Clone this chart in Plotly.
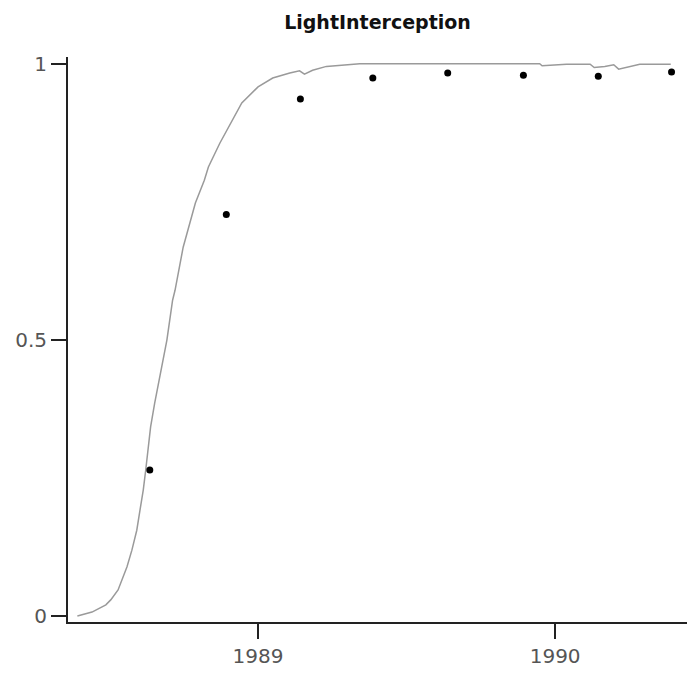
import plotly.graph_objects as go

# Simulated light interception (line)
sim_dates = [
    "1988-05-24", "1988-06-11", "1988-06-28", "1988-07-04", "1988-07-13",
    "1988-07-18", "1988-07-24", "1988-07-30", "1988-08-05", "1988-08-09",
    "1988-08-13", "1988-08-16", "1988-08-19", "1988-08-22", "1988-08-27",
    "1988-08-30", "1988-09-05", "1988-09-11", "1988-09-18", "1988-09-21",
    "1988-10-01", "1988-10-12", "1988-10-16", "1988-10-27", "1988-11-01",
    "1988-11-15", "1988-11-30", "1988-12-12", "1989-01-01", "1989-01-19",
    "1989-02-09", "1989-02-21", "1989-02-27", "1989-03-09", "1989-03-26",
    "1989-04-11", "1989-05-06", "1989-08-01", "1989-12-13", "1989-12-16",
    "1990-01-15", "1990-02-13", "1990-02-18", "1990-03-03", "1990-03-14",
    "1990-03-20", "1990-04-15", "1990-05-23",
]
sim_values = [
    0.001, 0.008, 0.021, 0.030, 0.048,
    0.066, 0.090, 0.120, 0.156, 0.193,
    0.229, 0.265, 0.301, 0.343, 0.386,
    0.409, 0.451, 0.500, 0.572, 0.590,
    0.668, 0.730, 0.748, 0.789, 0.813,
    0.856, 0.898, 0.929, 0.958, 0.974,
    0.983, 0.987, 0.981, 0.988, 0.995,
    0.997, 1.000, 1.000, 1.000, 0.996,
    0.999, 0.999, 0.993, 0.995, 0.998,
    0.990, 0.999, 0.999,
]

# Observed light interception (points)
obs_dates = [
    "1988-08-21", "1988-11-23", "1989-02-22", "1989-05-22",
    "1989-08-22", "1989-11-23", "1990-02-23", "1990-05-24",
]
obs_values = [0.265, 0.727, 0.936, 0.974, 0.983, 0.979, 0.977, 0.985]

x_tick_vals = ["1989-01-01", "1990-01-01"]
x_tick_text = ["1989", "1990"]
y_tick_vals = [0, 0.5, 1]
y_tick_text = ["0", "0.5", "1"]

fig = go.Figure()
fig.add_trace(go.Scatter(
    x=sim_dates, y=sim_values, mode="lines",
    line=dict(color="#9a9a9a", width=1.5), showlegend=False,
))
fig.add_trace(go.Scatter(
    x=obs_dates, y=obs_values, mode="markers",
    marker=dict(color="black", size=7), showlegend=False,
))

axis_common = dict(
    showgrid=False, zeroline=False, showline=True, linecolor="#222222",
    linewidth=2, ticks="outside", ticklen=15, tickwidth=2, tickcolor="#222222",
    tickfont=dict(family="DejaVu Sans", size=20, color="#555555"),
)

fig.update_layout(
    width=688, height=678,
    margin=dict(l=68, r=1, t=57, b=56),
    paper_bgcolor="white", plot_bgcolor="white",
    title=dict(text="<b>LightInterception</b>", x=0.5, xanchor="center",
               xref="paper", y=0.967, yanchor="middle",
               font=dict(family="DejaVu Sans", size=19, color="#111111")),
    xaxis=dict(type="date", range=["1988-05-12 12:00", "1990-06-12"],
               tickvals=x_tick_vals, ticktext=x_tick_text, **axis_common),
    yaxis=dict(range=[-0.010, 1.012], tickvals=y_tick_vals,
               ticktext=y_tick_text, **axis_common),
)

fig.write_html("out.html")
